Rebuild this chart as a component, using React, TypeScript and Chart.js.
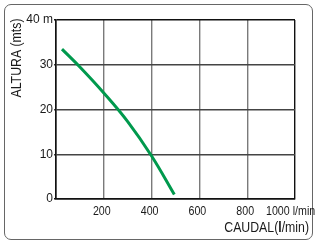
import React, { useEffect, useRef } from "react";
import { Chart, registerables } from "chart.js";

Chart.register(...registerables);

const flowValues = [25, 100, 200, 300, 400, 495];
const heightValues = [33.5, 29.5, 23.7, 17.3, 9.6, 1];
const xTickValues = [200, 400, 600, 800, 1000];
const xTickLabels = ["200", "400", "600", "800", "1000 l/min"];
const yTickLabels: Record<number, string> = { 0: "0", 10: "10", 20: "20", 30: "30", 40: "40 m" };

const FONT = '"Liberation Sans", Arial, sans-serif';
const SQ = 0.82;

function narrowText(ctx: any, text: string, x: number, y: number, align: "left" | "center" | "right") {
  const w = ctx.measureText(text).width * SQ;
  let left = x;
  if (align === "center") left = x - w / 2;
  if (align === "right") left = x - w;
  ctx.save();
  ctx.translate(left, y);
  ctx.scale(SQ, 1);
  ctx.textAlign = "left";
  ctx.fillText(text, 0, 0);
  ctx.restore();
  return w;
}

const textPlugin = {
  id: "texts",
  afterDraw(chart: any) {
    const ctx = chart.ctx;
    const xs = chart.scales.x;
    const area = chart.chartArea;
    ctx.save();
    ctx.fillStyle = "#1a1a1a";
    ctx.textBaseline = "middle";
    ctx.font = `13px ${FONT}`;
    xTickValues.forEach((v, i) => {
      const px = xs.getPixelForValue(v);
      if (i === xTickLabels.length - 1) {
        narrowText(ctx, xTickLabels[i], px - 29, area.bottom + 12, "left");
      } else {
        narrowText(ctx, xTickLabels[i], px - 2, area.bottom + 12, "center");
      }
    });
    // x title with bold "l"
    const p1 = "CAUDAL(";
    const p3 = "/min)";
    ctx.font = `15px ${FONT}`;
    const w1 = ctx.measureText(p1).width * SQ;
    const w3 = ctx.measureText(p3).width * SQ;
    ctx.font = `bold 15px ${FONT}`;
    const w2 = ctx.measureText("l").width * SQ;
    const right = 309;
    let x = right - (w1 + w2 + w3);
    const y = area.bottom + 29;
    ctx.font = `15px ${FONT}`;
    narrowText(ctx, p1, x, y, "left");
    x += w1;
    ctx.font = `bold 15px ${FONT}`;
    narrowText(ctx, "l", x, y, "left");
    x += w2;
    ctx.font = `15px ${FONT}`;
    narrowText(ctx, p3, x, y, "left");
    // y title
    ctx.translate(17, 58);
    ctx.rotate(-Math.PI / 2);
    ctx.font = `15px ${FONT}`;
    narrowText(ctx, "ALTURA (mts)", 0, 0, "center");
    ctx.restore();
  },
};

export default function App() {
  const ref = useRef<HTMLCanvasElement>(null);
  useEffect(() => {
    if (!ref.current) return;
    const chart = new Chart(ref.current, {
      type: "line",
      data: {
        datasets: [
          {
            data: flowValues.map((f, i) => ({ x: f, y: heightValues[i] })),
            borderColor: "#00994d",
            borderWidth: 3,
            pointRadius: 0,
            tension: 0.4,
            fill: false,
          },
        ],
      },
      options: {
        animation: false,
        responsive: false,
        events: [],
        layout: { padding: { left: 0, top: 20, right: 23, bottom: 0 } },
        plugins: { legend: { display: false }, tooltip: { enabled: false } },
        scales: {
          x: {
            type: "linear",
            min: 0,
            max: 1000,
            ticks: { stepSize: 200, display: false },
            grid: {
              drawTicks: false,
              color: (c: any) => (c.tick && (c.tick.value === 0 || c.tick.value === 1000) ? "#111" : "#7a7a7a"),
              lineWidth: 1.4,
            },
            border: { display: true, color: "#111", width: 1.5 },
            afterFit(scale: any) {
              scale.height = 45;
              scale.paddingLeft = 0;
              scale.paddingRight = 0;
            },
          },
          y: {
            type: "linear",
            min: 0,
            max: 40,
            ticks: {
              stepSize: 10,
              padding: 1,
              color: "#1a1a1a",
              font: { family: FONT, size: 12 },
              callback: (v: any) => yTickLabels[v as number] ?? "",
            },
            grid: {
              drawTicks: true,
              tickLength: 2,
              color: (c: any) => (c.tick && (c.tick.value === 0 || c.tick.value === 40) ? "#111" : "#444"),
              lineWidth: 1.4,
            },
            border: { display: true, color: "#111", width: 1.5 },
            afterFit(scale: any) {
              scale.width = 56;
              scale.paddingTop = 0;
              scale.paddingBottom = 0;
            },
          },
        },
      },
      plugins: [textPlugin],
    });
    return () => chart.destroy();
  }, []);
  return (
    <div style={{ position: "fixed", left: 0, top: 0, width: 318, height: 244, background: "#fff" }}>
      <div
        style={{
          position: "absolute",
          left: 4,
          top: 4,
          width: 309,
          height: 236,
          border: "1.5px solid #666",
          borderRadius: 7,
          boxSizing: "border-box",
        }}
      />
      <canvas ref={ref} width={318} height={244} style={{ position: "absolute", left: 0, top: 0 }} />
    </div>
  );
}
